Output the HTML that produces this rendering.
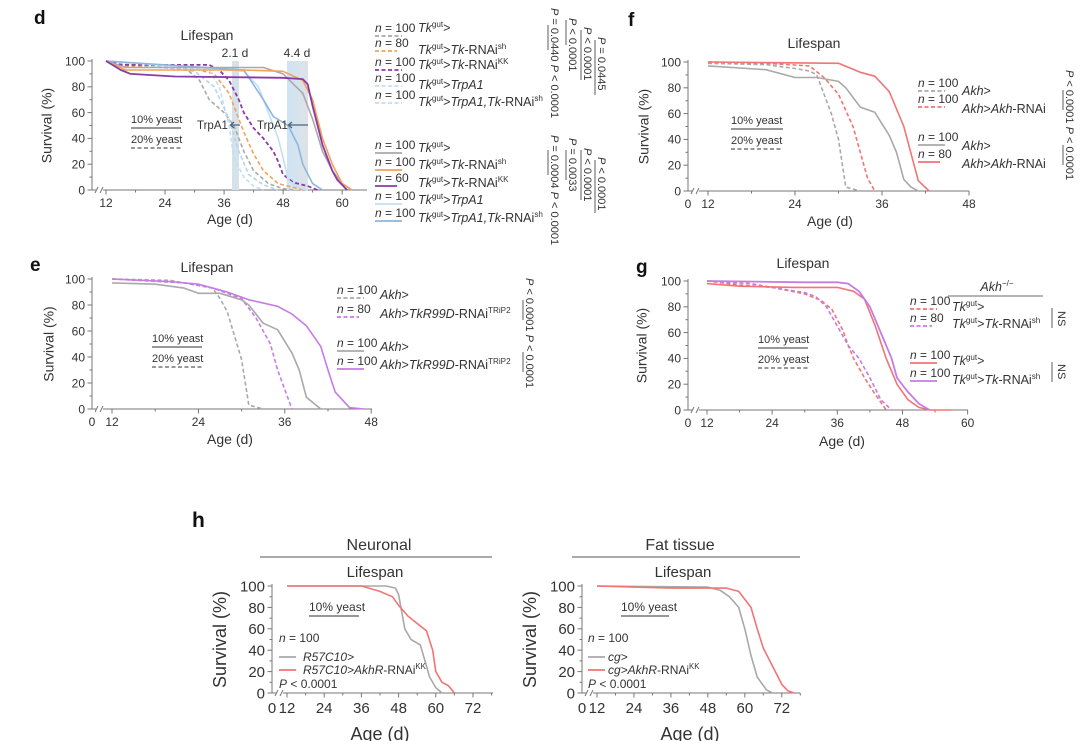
<!DOCTYPE html>
<html><head><meta charset="utf-8"><style>
html,body{margin:0;padding:0;background:#fff;width:1080px;height:741px;overflow:hidden}
svg{display:block;font-family:"Liberation Sans",sans-serif}
</style></head><body>
<svg id="fig" width="1080" height="741" viewBox="0 0 1080 741" xmlns="http://www.w3.org/2000/svg"></svg>
<script>
// ---------- DATA (age in days, survival %) ----------
// panel d, 20% yeast (dashed)
const dTkD_age=[12,16,28,31,33,36,38,40,42,45,48,50];
const dTkD_surv=[100,97,95,85,70,60,50,30,15,5,1,0];
const dShD_age=[12,16,30,34,37,39,40,42,44,47,50,52];
const dShD_surv=[100,96,94,90,75,55,45,28,15,5,2,0];
const dKkD_age=[12,15,33,35,37,39,40,42,44,46,47,48,50,53,55];
const dKkD_surv=[100,97,97,93,85,70,60,48,40,30,22,12,6,3,0];
const dTrD_age=[12,33,35,37,38,40,42,44];
const dTrD_surv=[100,93,80,50,25,10,3,0];
const dTrTkD_age=[12,30,34,37,39,41,44,47];
const dTrTkD_surv=[100,92,80,55,30,12,4,0];
// panel d, 10% yeast (solid)
const dTkS_age=[12,16,44,48,52,54,56,58,60,62];
const dTkS_surv=[100,95,95,90,75,55,30,15,5,0];
const dShS_age=[12,16,40,48,52,54,56,58,60,62];
const dShS_surv=[100,93,93,92,85,70,40,20,5,0];
const dKkS_age=[12,15,17,26,48,52,53,54,56,58,59,61];
const dKkS_surv=[100,93,90,88,87,86,82,65,35,15,8,0];
const dTrS_age=[12,30,40,43,45,47,48,49,51,53];
const dTrS_surv=[100,95,92,80,60,40,25,8,2,0];
const dTrTkS_age=[12,40,44,46,49,51,52,54,56];
const dTrTkS_surv=[100,93,70,57,50,35,20,5,0];
// panel f
const fCtlD_age=[12,20,24,26,27,29,30,31,33];
const fCtlD_surv=[99,98,95,93,90,60,40,3,0];
const fRnaiD_age=[12,20,26,28,30,32,33,34,35];
const fRnaiD_surv=[100,99,97,88,75,50,30,10,0];
const fCtlS_age=[12,20,24,27,30,31,33,35,37,38,39,40,41];
const fCtlS_surv=[97,94,88,88,85,80,65,61,43,30,9,3,0];
const fRnaiS_age=[12,30,33,35,37,39,41,42.5];
const fRnaiS_surv=[100,99,92,89,77,50,8,0];
// panel e
const eCtlD_age=[12,20,24,26,27,28,30,31,33];
const eCtlD_surv=[100,99,95,93,85,75,38,3,0];
const eRnaiD_age=[12,22,26,30,32,34,35,37];
const eRnaiD_surv=[100,97,93,85,70,50,30,0];
const eCtlS_age=[12,18,22,24,27,30,31,33,35,37,38,39,41];
const eCtlS_surv=[97,96,93,89,89,84,80,66,61,43,30,9,0];
const eRnaiS_age=[12,20,24,28,31,35,37,39,41,42,43,45,47];
const eRnaiS_surv=[100,98,96,90,84,79,73,64,48,30,13,1,0];
// panel g
const gCtlD_age=[12,18,24,30,33,35,37,38,39,41,43,45];
const gCtlD_surv=[100,97,95,90,85,78,62,50,40,25,12,0];
const gRnaiD_age=[12,20,24,30,32,34,36,38,40,42,44,46];
const gRnaiD_surv=[100,98,95,91,88,80,65,50,40,25,8,0];
const gCtlS_age=[12,18,28,36,39,41,43,45,47,49,51,53,57];
const gCtlS_surv=[98,96,95,95,92,86,65,40,20,8,2,0,0];
const gRnaiS_age=[12,30,36,38,40,42,44,46,47,49,51,53];
const gRnaiS_surv=[100,99,99,98,92,80,60,40,25,14,5,0];
// panel h
const hNeuCtl_age=[12,44,47,48,50,52,55,56,58,60,62];
const hNeuCtl_surv=[100,100,98,92,60,50,45,35,15,5,0];
const hNeuRnai_age=[12,36,42,46,48,51,54,57,59,60,62,64,66];
const hNeuRnai_surv=[100,100,95,90,82,72,65,58,40,20,10,7,0];
const hFatCtl_age=[12,48,52,55,58,60,62,64,67,69];
const hFatCtl_surv=[100,99,96,90,80,60,35,15,3,0];
const hFatRnai_age=[12,24,36,54,58,62,64,66,69,72,74,76];
const hFatRnai_surv=[100,99,98,98,95,80,60,42,25,8,2,0];
const yTicks=[0,20,40,60,80,100];

// ---------- helpers ----------
const NS='http://www.w3.org/2000/svg';
const svg=document.getElementById('fig');
function mk(tag,attrs,parent){const e=document.createElementNS(NS,tag);for(const k in attrs)e.setAttribute(k,attrs[k]);(parent||svg).appendChild(e);return e;}
function rich(x,y,markup,size,anchor,parent,rot){
  const t=mk('text',{x:x,y:y,'font-size':size,fill:'#333','text-anchor':anchor||'start'},parent);
  if(rot)t.setAttribute('transform','rotate(90 '+x+' '+y+')');
  const re=/\{(i|s|si):([^}]*)\}|([^{]+)/g;let m;let up=false;
  while((m=re.exec(markup))){
    const sp=mk('tspan',{},t);
    if(m[3]!==undefined){sp.textContent=m[3];if(up){sp.setAttribute('dy',size*0.4);up=false;}}
    else if(m[1]==='i'){sp.textContent=m[2];sp.setAttribute('font-style','italic');if(up){sp.setAttribute('dy',size*0.4);up=false;}}
    else {sp.textContent=m[2];sp.setAttribute('font-size',size*0.65);if(!up){sp.setAttribute('dy',-size*0.4);up=true;}}
  }
  return t;
}
function panel(P){
  const g=mk('g',{});
  
  
  const X=d=>P.x12+(d-12)*P.ppd;
  const Y=v=>P.y0-(v/100)*(P.y0-P.y100);
  const axc='#777';
  // y axis
  const ya=mk('line',{x1:P.ax,y1:P.y100-2,x2:P.ax,y2:P.y0,stroke:axc,'stroke-width':1},g);
  
  
  for(let v=0;v<=100;v+=10){mk('line',{x1:P.ax-(v%20?2.5:4.5),y1:Y(v),x2:P.ax,y2:Y(v),stroke:axc},g);}
  yTicks.forEach(v=>{const t=mk('text',{x:P.ax-7,y:Y(v)+P.fs*0.36,'font-size':P.fs,fill:'#333','text-anchor':'end'},g);t.textContent=v;
    
    });
  // x axis
  const xa=mk('line',{x1:P.ax,y1:P.y0,x2:P.xend,y2:P.y0,stroke:axc},g);
  
  
  mk('rect',{x:P.ax+4,y:P.y0-4,width:7,height:8,fill:'#fff'},g);
  mk('path',{d:`M${P.ax+3},${P.y0+3}L${P.ax+6},${P.y0-3}M${P.ax+8},${P.y0+3}L${P.ax+11},${P.y0-3}`,stroke:axc,fill:'none'},g);
  for(let d=12;d<=P.maxDay;d+=6){const xx=X(d);if(xx>P.xend+1)break;mk('line',{x1:xx,y1:P.y0,x2:xx,y2:P.y0+(((d-12)%12)?2.5:4.5),stroke:axc},g);}
  P.xticks.forEach(d=>{const t=mk('text',{x:X(d),y:P.y0+P.fs+5,'font-size':P.fs,fill:'#333','text-anchor':'middle'},g);t.textContent=d;
    
    });
  if(P.zero){const t=mk('text',{x:P.ax,y:P.y0+P.fs+5,'font-size':P.fs,fill:'#333','text-anchor':'middle'},g);t.textContent='0';
    
    }
  const xt=mk('text',{x:P.xtx,y:P.xty,'font-size':P.ts,fill:'#333','text-anchor':'middle'},g);xt.textContent='Age (d)';
  
  
  const yt=mk('text',{x:P.ytx,y:(P.y0+P.y100)/2,'font-size':P.ts,fill:'#333','text-anchor':'middle',transform:`rotate(-90 ${P.ytx} ${(P.y0+P.y100)/2})`,'dominant-baseline':'middle'},g);yt.textContent='Survival (%)';
  
  
  const lt=mk('text',{x:P.ltx,y:P.lty,'font-size':P.ls,fill:'#333','text-anchor':'middle'},g);lt.textContent='Lifespan';
  
  
  if(P.pre)P.pre(g,X,Y);
  P.series.forEach(s=>{
    const pts=s.age.map((a,i)=>X(a).toFixed(1)+','+Y(s.surv[i]).toFixed(1)).join(' ');
    const pl=mk('polyline',{points:pts,fill:'none',stroke:s.c,'stroke-width':s.w||1.6,'stroke-dasharray':s.dash?'4 2.5':'none','stroke-linejoin':'round'},g);
    
    
  });
  return g;
}
const GRAY='#a9a9a9',ORG='#f0a35a',PUR='#8a3aa8',LBL='#c4def3',BLU='#8db6df',RED='#f07575',LIL='#c77be6';

// ---------- panel d ----------
panel({name:'panel-d-chart',x12:106,ppd:4.92,y100:61,y0:190,ax:92,xend:367,maxDay:64,xticks:[12,24,36,48,60],zero:false,fs:12,ts:14,ls:14,
  xtx:230,xty:224,ytx:48,ltx:207,lty:40,
  pre:(g,X,Y)=>{
    const b1=mk('rect',{x:232,y:61,width:7,height:129,fill:'#d5e2ea'},g);
    
    
    const gr=mk('linearGradient',{id:'bg2',x1:'0',x2:'1',y1:'0',y2:'0'},g);
    mk('stop',{offset:'0','stop-color':'#cde4f5'},gr);mk('stop',{offset:'1','stop-color':'#dfe2e6'},gr);
    const b2=mk('rect',{x:287,y:61,width:21,height:129,fill:'url(#bg2)'},g);
    
    
  },
  series:[
    {n:'d-tk-20-yeast',age:dTkD_age,surv:dTkD_surv,c:GRAY,dash:1},
    {n:'d-tk-rnai-sh-20-yeast',age:dShD_age,surv:dShD_surv,c:ORG,dash:1},
    {n:'d-trpa1-20-yeast',age:dTrD_age,surv:dTrD_surv,c:LBL,dash:1},
    {n:'d-trpa1-tk-20-yeast',age:dTrTkD_age,surv:dTrTkD_surv,c:'#b5d3ee',dash:1},
    {n:'d-tk-rnai-kk-20-yeast',age:dKkD_age,surv:dKkD_surv,c:PUR,dash:1,w:1.8},
    {n:'d-trpa1-10-yeast',age:dTrS_age,surv:dTrS_surv,c:LBL},
    {n:'d-trpa1-tk-10-yeast',age:dTrTkS_age,surv:dTrTkS_surv,c:BLU},
    {n:'d-tk-10-yeast',age:dTkS_age,surv:dTkS_surv,c:GRAY},
    {n:'d-tk-rnai-sh-10-yeast',age:dShS_age,surv:dShS_surv,c:ORG},
    {n:'d-tk-rnai-kk-10-yeast',age:dKkS_age,surv:dKkS_surv,c:PUR,w:1.8}
  ]});
// ---------- panel f ----------
panel({name:'panel-f-chart',x12:708,ppd:7.25,y100:62,y0:191,ax:688,xend:969,maxDay:48,xticks:[12,24,36,48],zero:true,fs:12,ts:14,ls:14,
  xtx:830,xty:226,ytx:645,ltx:814,lty:48,
  series:[
    {n:'f-akh-20-yeast',age:fCtlD_age,surv:fCtlD_surv,c:GRAY,dash:1},
    {n:'f-akh-rnai-20-yeast',age:fRnaiD_age,surv:fRnaiD_surv,c:RED,dash:1},
    {n:'f-akh-10-yeast',age:fCtlS_age,surv:fCtlS_surv,c:GRAY},
    {n:'f-akh-rnai-10-yeast',age:fRnaiS_age,surv:fRnaiS_surv,c:RED}
  ]});
// ---------- panel e ----------
panel({name:'panel-e-chart',x12:112,ppd:7.2,y100:279,y0:409,ax:92,xend:372,maxDay:48,xticks:[12,24,36,48],zero:true,fs:12,ts:14,ls:14,
  xtx:230,xty:444,ytx:50,ltx:207,lty:272,
  series:[
    {n:'e-akh-20-yeast',age:eCtlD_age,surv:eCtlD_surv,c:GRAY,dash:1},
    {n:'e-tkr99d-rnai-20-yeast',age:eRnaiD_age,surv:eRnaiD_surv,c:LIL,dash:1},
    {n:'e-akh-10-yeast',age:eCtlS_age,surv:eCtlS_surv,c:GRAY},
    {n:'e-tkr99d-rnai-10-yeast',age:eRnaiS_age,surv:eRnaiS_surv,c:LIL}
  ]});
// ---------- panel g ----------
panel({name:'panel-g-chart',x12:707,ppd:5.43,y100:281,y0:410,ax:688,xend:968,maxDay:60,xticks:[12,24,36,48,60],zero:true,fs:12,ts:14,ls:14,
  xtx:842,xty:446,ytx:643,ltx:803,lty:268,
  series:[
    {n:'g-tk-20-yeast',age:gCtlD_age,surv:gCtlD_surv,c:RED,dash:1},
    {n:'g-tk-rnai-20-yeast',age:gRnaiD_age,surv:gRnaiD_surv,c:LIL,dash:1},
    {n:'g-tk-10-yeast',age:gCtlS_age,surv:gCtlS_surv,c:RED},
    {n:'g-tk-rnai-10-yeast',age:gRnaiS_age,surv:gRnaiS_surv,c:LIL,w:1.8}
  ]});
// ---------- panel h ----------
panel({name:'panel-h-neuronal-chart',x12:287,ppd:3.1,y100:586,y0:693,ax:272,xend:493,maxDay:78,xticks:[12,24,36,48,60,72],zero:true,fs:15,ts:18,ls:15,
  xtx:380,xty:740,ytx:221,ltx:375,lty:577,
  series:[
    {n:'h-r57c10',age:hNeuCtl_age,surv:hNeuCtl_surv,c:GRAY},
    {n:'h-r57c10-akhr-rnai',age:hNeuRnai_age,surv:hNeuRnai_surv,c:RED}
  ]});
panel({name:'panel-h-fat-chart',x12:597,ppd:3.08,y100:586,y0:693,ax:582,xend:800,maxDay:78,xticks:[12,24,36,48,60,72],zero:true,fs:15,ts:18,ls:15,
  xtx:690,xty:740,ytx:531,ltx:683,lty:577,
  series:[
    {n:'h-cg',age:hFatCtl_age,surv:hFatCtl_surv,c:GRAY},
    {n:'h-cg-akhr-rnai',age:hFatRnai_age,surv:hFatRnai_surv,c:RED}
  ]});

// ---------- annotations ----------
function txt(x,y,s,size,opts){const t=mk('text',Object.assign({x:x,y:y,'font-size':size,fill:'#333'},opts||{}));t.textContent=s;return t;}
function ln(x1,y1,x2,y2,c,dash,w){return mk('line',{x1:x1,y1:y1,x2:x2,y2:y2,stroke:c,'stroke-width':w||1.6,'stroke-dasharray':dash?'4 2.5':'none'});}
let t;
t=txt(34,24,'d',19,{'font-weight':'bold',fill:'#111'});
t=txt(628,26,'f',19,{'font-weight':'bold',fill:'#111'});
t=txt(30,271,'e',19,{'font-weight':'bold',fill:'#111'});
t=txt(636,273,'g',19,{'font-weight':'bold',fill:'#111'});
t=txt(192,527,'h',21,{'font-weight':'bold',fill:'#111'});
// d band labels & arrows
t=txt(235,57,'2.1 d',12,{'text-anchor':'middle'});
t=txt(297,57,'4.4 d',12,{'text-anchor':'middle'});
t=txt(197,129,'TrpA1',11.5);
t=txt(257,129,'TrpA1',11.5);
t=mk('path',{d:'M240,125H231M234,122L230.5,125L234,128',stroke:'#4c6478',fill:'none','stroke-width':1.3});
t=mk('path',{d:'M308,125H289M292,122L288.5,125L292,128',stroke:'#4c6478',fill:'none','stroke-width':1.3});
// yeast legends
function yeast(x,y,w,two,size){
  const a=txt(x,y,'10% yeast',size||11);
  const l=ln(x,y+5,x+w,y+5,'#777',0,1.6);
  if(two){const b=txt(x,y+20,'20% yeast',size||11);
  const l2=ln(x,y+25,x+w,y+25,'#777',1,1.4);}
}
yeast(131,123,50,1);yeast(731,124,52,1);yeast(152,342,50,1);yeast(758,343,50,1);
yeast(309,611,50,0,12);yeast(621,611,48,0,12);
// legend entry helper
function entry(nx,ny,ntext,color,dash,tx,ty,markup,size,name){
  const n=rich(nx,ny+4,'{i:n} = '+ntext,size||12);
  
  
  const l=ln(nx,ny+8,nx+(ntext.length>2?27:22),ny+8,color,dash,1.8);
  
  
  const tt=rich(tx,ty+4,markup,size?size+0.5:12.5);
  
  
}
// d legend
const TK='{i:Tk}{s:gut}>';
entry(375,28,'100',GRAY,1,418,28,TK,12,'legend-d-tk-20');
entry(375,43,'80',ORG,1,418,50,TK+'{i:Tk}-RNAi{s:sh}',12,'legend-d-rnai-sh-20');
entry(375,62,'100',PUR,1,418,65,TK+'{i:Tk}-RNAi{s:KK}',12,'legend-d-rnai-kk-20');
entry(375,78,'100',LBL,1,418,85,TK+'{i:TrpA1}',12,'legend-d-trpa1-20');
entry(375,95,'100',LBL,1,418,102,TK+'{i:TrpA1,Tk}-RNAi{s:sh}',12,'legend-d-trpa1-tk-20');
entry(375,145,'100',GRAY,0,418,148,TK,12,'legend-d-tk-10');
entry(375,162,'100',ORG,0,418,165,TK+'{i:Tk}-RNAi{s:sh}',12,'legend-d-rnai-sh-10');
entry(375,178,'60',PUR,0,418,183,TK+'{i:Tk}-RNAi{s:KK}',12,'legend-d-rnai-kk-10');
entry(375,196,'100',LBL,0,418,200,TK+'{i:TrpA1}',12,'legend-d-trpa1-10');
entry(375,213,'100',BLU,0,418,218,TK+'{i:TrpA1,Tk}-RNAi{s:sh}',12,'legend-d-trpa1-tk-10');
// d p-values (rotated)
function pcol(x,y,s,name,bar){const r=rich(x,y,s,11,'start',null,true);
  if(bar){const b=ln(x-3,bar[0],x-3,bar[1],'#777',0,1.2);}}
pcol(551,8,'{i:P} = 0.0440  {i:P} < 0.0001','p-values-d-20-col1',[25,50]);
pcol(569,18,'{i:P} < 0.0001','p-values-d-20-col2',[20,45]);
pcol(584,27,'{i:P} < 0.0001','p-values-d-20-col3',[30,80]);
pcol(598,37,'{i:P} = 0.0445','p-values-d-20-col4',[40,95]);
pcol(551,135,'{i:P} = 0.0004  {i:P} < 0.0001','p-values-d-10-col1',[150,175]);
pcol(569,138,'{i:P} = 0.0033','p-values-d-10-col2',[150,180]);
pcol(584,148,'{i:P} < 0.0001','p-values-d-10-col3',[150,200]);
pcol(598,157,'{i:P} < 0.0001','p-values-d-10-col4',[160,213]);
// f legend
entry(918,83,'100',GRAY,1,962,91,'{i:Akh}>',12,'legend-f-akh-20');
entry(918,99,'100',RED,1,962,109,'{i:Akh}>{i:Akh}-RNAi',12,'legend-f-akh-rnai-20');
entry(918,137,'100',GRAY,0,962,146,'{i:Akh}>',12,'legend-f-akh-10');
entry(918,154,'80',RED,0,962,164,'{i:Akh}>{i:Akh}-RNAi',12,'legend-f-akh-rnai-10');
pcol(1066,70,'{i:P} < 0.0001  {i:P} < 0.0001','p-values-f',[90,110]);
t=ln(1063,145,1063,165,'#777',0,1.2);
// e legend
entry(337,290,'100',GRAY,1,380,295,'{i:Akh}>',12,'legend-e-akh-20');
entry(337,309,'80',LIL,1,380,314,'{i:Akh}>{i:TkR99D}-RNAi{s:TRiP2}',12,'legend-e-rnai-20');
entry(337,343,'100',GRAY,0,380,347,'{i:Akh}>',12,'legend-e-akh-10');
entry(337,361,'100',LIL,0,380,365,'{i:Akh}>{i:TkR99D}-RNAi{s:TRiP2}',12,'legend-e-rnai-10');
pcol(526,278,'{i:P} < 0.0001  {i:P} < 0.0001','p-values-e',[300,320]);
t=ln(523,352,523,372,'#777',0,1.2);
// g legend
t=rich(997,291,'{i:Akh}{s:−/−}',12.5,'middle');
t=ln(948,296,1043,296,'#888',0,1.2);
entry(910,301,'100',RED,1,952,307,TK,12,'legend-g-tk-20');
entry(910,318,'80',LIL,1,952,324,TK+'{i:Tk}-RNAi{s:sh}',12,'legend-g-rnai-20');
entry(910,355,'100',RED,0,952,361,TK,12,'legend-g-tk-10');
entry(910,373,'100',LIL,0,952,380,TK+'{i:Tk}-RNAi{s:sh}',12,'legend-g-rnai-10');
t=ln(1052,308,1052,328,'#777',0,1.2);
t=ln(1052,362,1052,382,'#777',0,1.2);
t=txt(1058,311,'NS',11,{transform:'rotate(90 1058 311)'});
t=txt(1058,364,'NS',11,{transform:'rotate(90 1058 364)'});
// h headers
t=txt(379,550,'Neuronal',16,{'text-anchor':'middle'});
t=ln(260,557,492,557,'#777',0,1.2);
t=txt(680,550,'Fat tissue',16,{'text-anchor':'middle'});
t=ln(572,557,800,557,'#777',0,1.2);
// h legends
function hleg(x,tx,c1,c2,l1,l2,name){
  let a=rich(x,642,'{i:n} = 100',12);
  a=ln(x,657,x+17,657,GRAY,0,1.8);
  a=rich(tx,661,l1,12);
  a=ln(x,670,x+17,670,RED,0,1.8);
  a=rich(tx,674,l2,12);
  a=rich(x,688,'{i:P} < 0.0001',12);
}
hleg(279,303,GRAY,RED,'{i:R57C10>}','{i:R57C10>AkhR}-RNAi{s:KK}','legend-h-neuronal');
hleg(588,608,GRAY,RED,'{i:cg>}','{i:cg>AkhR}-RNAi{s:KK}','legend-h-fat');
</script>
</body></html>
